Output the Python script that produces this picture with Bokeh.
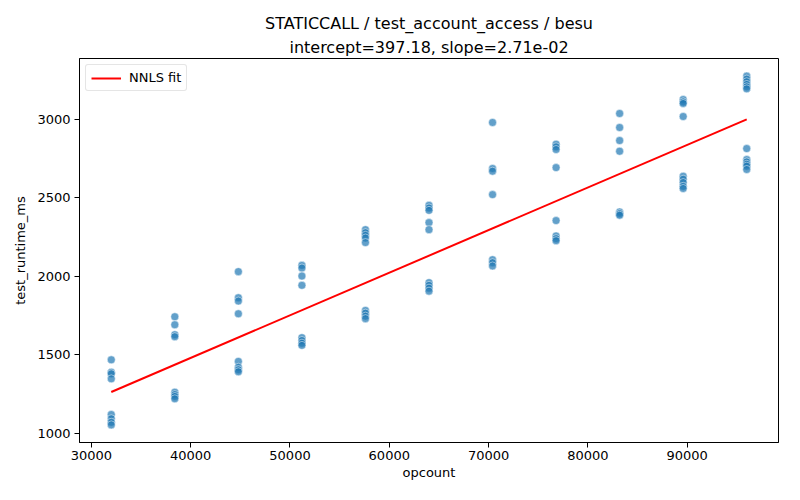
from bokeh.plotting import figure
from bokeh.models import Title, Range1d, FixedTicker, Legend, LegendItem, ColumnDataSource
from bokeh.embed import file_html
from bokeh.resources import INLINE

# ---- data ----
opcount_levels = [32000, 38400, 44800, 51200, 57600, 64000, 70400, 76800, 83200, 89600, 96000]
runtime_32000 = [1469, 1390, 1380, 1348, 1121, 1094, 1072, 1055]
runtime_38400 = [1743, 1692, 1629, 1616, 1263, 1248, 1236, 1221]
runtime_44800 = [2030, 1864, 1843, 1762, 1459, 1422, 1406, 1393]
runtime_51200 = [2070, 2053, 2002, 1943, 1610, 1592, 1575, 1561]
runtime_57600 = [2297, 2278, 2261, 2244, 2215, 1783, 1766, 1747, 1731]
runtime_64000 = [2452, 2435, 2420, 2342, 2297, 1960, 1943, 1925, 1906]
runtime_70400 = [2979, 2686, 2669, 2520, 2106, 2087, 2066]
runtime_76800 = [2841, 2824, 2807, 2692, 2355, 2257, 2240, 2227]
runtime_83200 = [3036, 2947, 2864, 2796, 2410, 2399, 2389]
runtime_89600 = [3125, 3110, 3100, 3017, 2637, 2618, 2597, 2573, 2559]
runtime_96000 = [3274, 3255, 3238, 3221, 3206, 3193, 2813, 2743, 2728, 2713, 2701, 2680]
intercept = 397.18
slope = 2.71e-02
x_ticks = [30000, 40000, 50000, 60000, 70000, 80000, 90000]
y_ticks = [1000, 1500, 2000, 2500, 3000]

groups = [runtime_32000, runtime_38400, runtime_44800, runtime_51200, runtime_57600,
          runtime_64000, runtime_70400, runtime_76800, runtime_83200, runtime_89600, runtime_96000]
xs, ys = [], []
for xv, vals in zip(opcount_levels, groups):
    for v in vals:
        xs.append(xv)
        ys.append(v)

fit_x = [min(opcount_levels), max(opcount_levels)]
fit_y = [intercept + slope * v for v in fit_x]

FONT = "DejaVu Sans"

p = figure(width=784, height=484, output_backend="svg", toolbar_location=None,
           x_range=Range1d(28800, 99200), y_range=Range1d(943, 3386),
           min_border_left=79, min_border_right=6, min_border_top=58, min_border_bottom=42)
p.title = None

t2 = Title(text="intercept=397.18, slope=2.71e-02", align="center", standoff=4,
           text_font=FONT, text_font_size="16px", text_font_style="normal", text_color="black")
t1 = Title(text="STATICCALL / test_account_access / besu", align="center", standoff=2,
           text_font=FONT, text_font_size="16px", text_font_style="normal", text_color="black")
p.add_layout(t2, "above")
p.add_layout(t1, "above")

p.xgrid.visible = False
p.ygrid.visible = False
p.outline_line_color = "black"
p.outline_line_width = 1
p.outline_line_alpha = 1
p.background_fill_color = "white"
p.border_fill_color = "white"

for ax in (p.xaxis[0], p.yaxis[0]):
    ax.axis_line_color = "black"
    ax.major_tick_line_color = "black"
    ax.major_tick_out = 5
    ax.major_tick_in = 0
    ax.minor_tick_line_color = None
    ax.major_label_text_font = FONT
    ax.major_label_text_font_size = "13px"
    ax.major_label_text_color = "black"
    ax.axis_label_text_font = FONT
    ax.axis_label_text_font_size = "13px"
    ax.axis_label_text_font_style = "normal"
    ax.axis_label_text_color = "black"

p.xaxis.ticker = FixedTicker(ticks=x_ticks)
p.yaxis.ticker = FixedTicker(ticks=y_ticks)
p.xaxis.formatter.use_scientific = False
p.yaxis.formatter.use_scientific = False
p.xaxis.axis_label = "opcount"
p.yaxis.axis_label = "test_runtime_ms"
p.xaxis.major_label_standoff = 3
p.yaxis.major_label_standoff = 4
p.xaxis.axis_label_standoff = 2
p.yaxis.axis_label_standoff = 6

src = ColumnDataSource(dict(x=xs, y=ys))
p.scatter("x", "y", source=src, size=8, marker="circle",
          fill_color="#1f77b4", fill_alpha=0.7, line_color="white", line_width=0.6, line_alpha=0.8)

line = p.line(fit_x, fit_y, line_color="red", line_width=2)

legend = Legend(items=[LegendItem(label="NNLS fit", renderers=[line])], location="top_left")
legend.label_text_font = FONT
legend.label_text_font_size = "13px"
legend.label_text_color = "black"
legend.border_line_color = "#cccccc"
legend.border_line_width = 1
legend.border_radius = 3
legend.background_fill_alpha = 0.8
legend.glyph_width = 30
legend.glyph_height = 14
legend.padding = 5
legend.spacing = 0
legend.margin = 6
legend.label_standoff = 8
p.add_layout(legend)

open("out.html", "w").write(file_html(p, INLINE))
